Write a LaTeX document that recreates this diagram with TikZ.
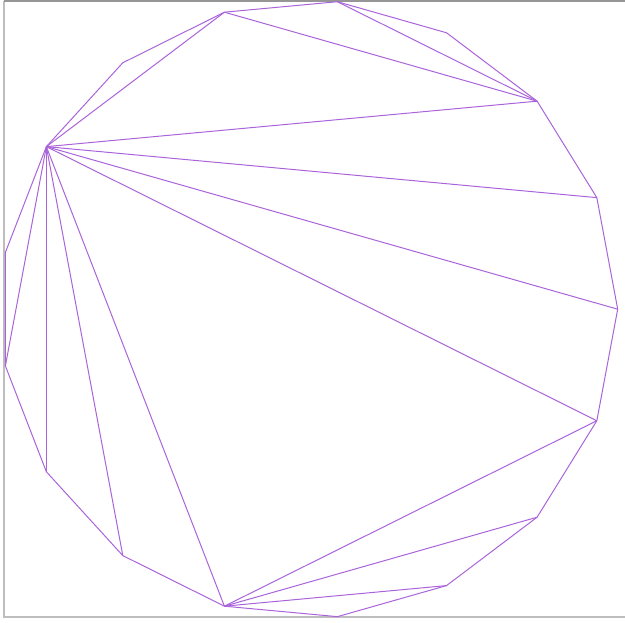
\documentclass[tikz,border=0pt]{standalone}
\usepackage{xcolor}
\usepackage{tikz}
\usetikzlibrary{calc}

\definecolor{polyline}{RGB}{170,100,218}
\definecolor{framedark}{RGB}{150,150,150}
\definecolor{framelight}{RGB}{190,190,190}

\begin{document}
\begin{tikzpicture}[
  x=1pt, y=1pt,
  side/.style={draw=polyline, line width=1pt, line join=miter},
  chord/.style={draw=polyline, line width=1pt},
  frametop/.style={draw=framedark, line width=1.2pt},
  frameside/.style={draw=framelight, line width=2pt},
]
\useasboundingbox (0,0) rectangle (625,623);

% ---- Frame ----
\coordinate (tl) at (3.5,622);
\coordinate (tr) at (625,622);
\coordinate (bl) at (3.5,5.5);
\coordinate (br) at (625,5.5);
\draw[frameside] (tl) -- (bl) -- (br);
\draw[frametop] (tl) -- (tr);

% ---- Vertices of the 17-gon ----
\coordinate (c) at (308.9,313.8);
\foreach \k in {0,...,16}{
  \coordinate (p\k) at ($(c)+({360*\k/17}:308.8)$);
}

% ---- Sides ----
\draw[side] (p0) \foreach \k in {1,...,16}{ -- (p\k)} -- cycle;

% ---- Diagonals of the triangulation ----
\foreach \a/\b in {5/2, 4/2, 7/5, 7/2, 7/1, 7/0, 7/16, 7/12, 7/11, 7/10, 7/9,
                   12/16, 12/15, 12/14}{
  \draw[chord] (p\a) -- (p\b);
}

\end{tikzpicture}
\end{document}
